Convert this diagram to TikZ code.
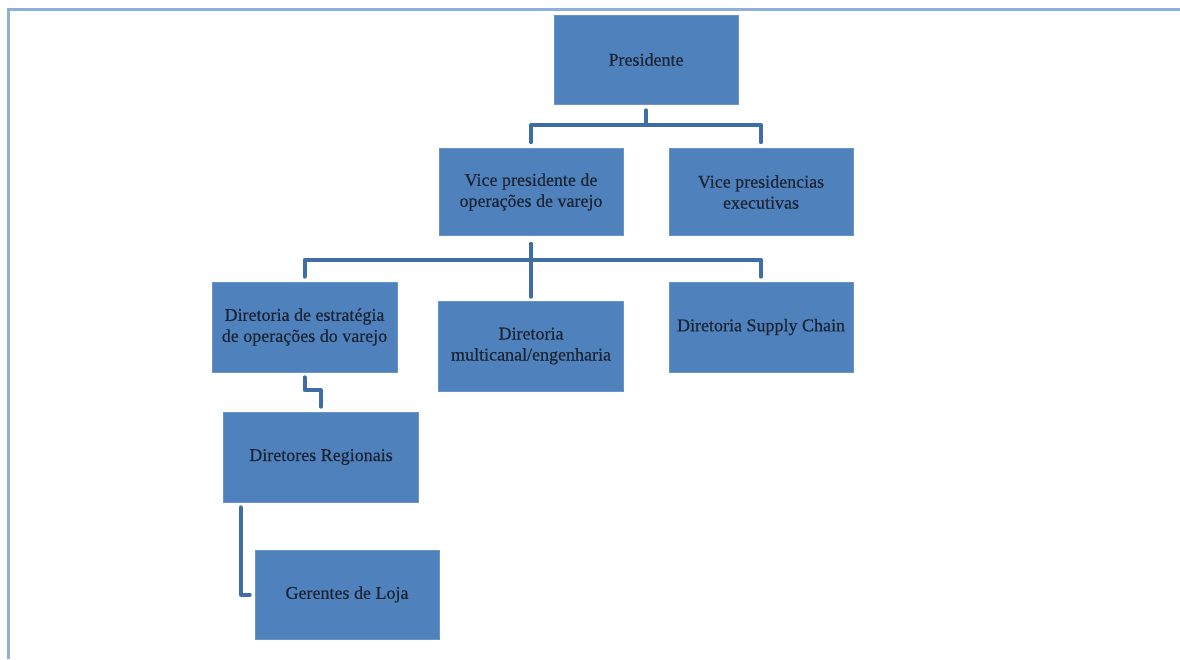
\documentclass[tikz,border=0pt]{standalone}
\usepackage{fontspec}
\setmainfont{Liberation Serif}
\newfontfamily\boxfont[FakeBold=0.4]{Liberation Serif}
\definecolor{boxfill}{HTML}{4F81BD}
\definecolor{connc}{HTML}{3F6EA6}
\definecolor{framec}{HTML}{8FAFDB}
\definecolor{txtc}{HTML}{1B2433}
\begin{document}
\begin{tikzpicture}[x=1pt,y=-1pt,
  orgbox/.style={rectangle, fill=boxfill, draw=boxfill!85!white, line width=0.6pt,
    minimum width=184pt, minimum height=89pt, align=center, inner sep=2pt,
    text=txtc, font=\boxfont\fontsize{18}{21}\selectfont},
  conn/.style={draw=connc, line width=4pt, line join=round, line cap=round},
  framel/.style={draw=framec, line width=3pt}]
\useasboundingbox (0,0) rectangle (1180,659);
\draw[framel] (8,659) -- (8,9) -- (1180,9);

\node[orgbox] (P) at (646,59.5) {Presidente};
\node[orgbox, minimum height=87pt] (VP1) at (531,192) {Vice presidente de\\operações de varejo};
\node[orgbox, minimum height=87pt] (VP2) at (761,192) {Vice presidencias\\executivas};
\node[orgbox, minimum height=90pt, minimum width=185pt] (D1) at (304.5,327) {Diretoria de estratégia\\de operações do varejo};
\node[orgbox, minimum height=90pt, minimum width=185pt] (D2) at (531,346) {Diretoria\\multicanal/engenharia};
\node[orgbox, minimum height=90pt] (D3) at (761,327) {Diretoria Supply Chain};
\node[orgbox, minimum height=90pt, minimum width=195pt] (R) at (321,457) {Diretores Regionais};
\node[orgbox] (G) at (347,594.5) {Gerentes de Loja};

\coordinate (b1) at (646,125);
\coordinate (b2) at (531,260);
\coordinate (e1) at (313,390);

\draw[conn] ([yshift=-6pt]P.south) -- (b1);
\draw[conn] ([yshift=6pt]VP1.north) |- (b1) -| ([yshift=6pt]VP2.north);
\draw[conn] ([yshift=-8pt]VP1.south) -- ([yshift=4pt]D2.north);
\draw[conn] ([yshift=5pt]D1.north) |- (b2) -| ([yshift=5pt]D3.north);
\draw[conn] ([yshift=-5pt]D1.south) |- (e1) -| ([yshift=5pt]R.north);
\draw[conn] ([xshift=17.5pt,yshift=-5pt]R.south west) |- ([xshift=-5pt]G.west);
\end{tikzpicture}
\end{document}
